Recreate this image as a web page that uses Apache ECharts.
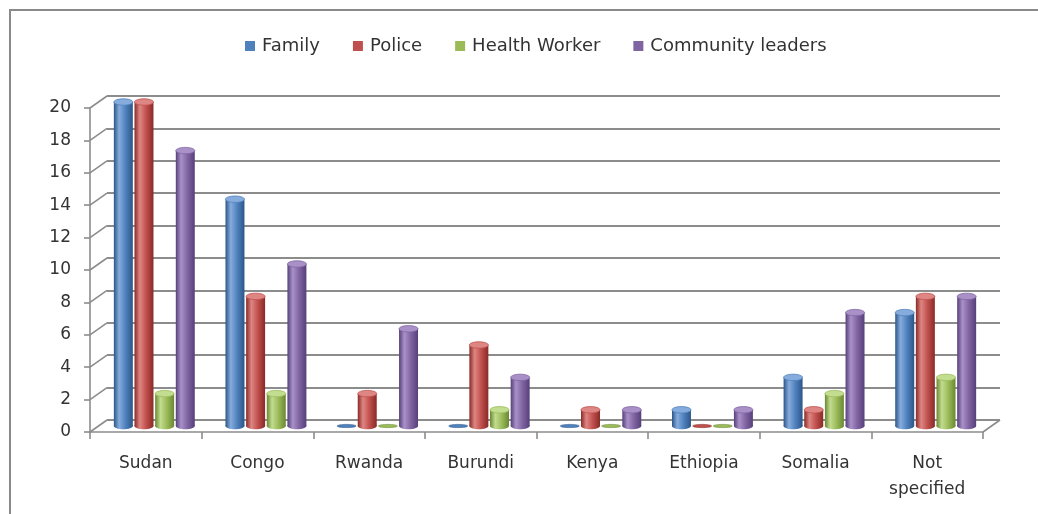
<!DOCTYPE html>
<html>
<head>
<meta charset="utf-8">
<script src="https://cdn.jsdelivr.net/npm/echarts@6/dist/echarts.min.js"></script>
<style>
  html, body { margin: 0; padding: 0; background: #fff; }
  #chart { width: 1038px; height: 514px; }
</style>
</head>
<body>
<div id="chart"></div>
<script>
// Reporting channels by country of origin
const categories = ['Sudan', 'Congo', 'Rwanda', 'Burundi', 'Kenya', 'Ethiopia', 'Somalia', 'Not\nspecified'];
const seriesNames = ['Family', 'Police', 'Health Worker', 'Community leaders'];
const family = [20, 14, 0, 0, 0, 1, 3, 7];
const police = [20, 8, 2, 5, 1, 0, 1, 8];
const healthWorker = [2, 2, 0, 1, 0, 0, 2, 3];
const communityLeaders = [17, 10, 6, 3, 1, 1, 7, 8];
const yTicks = [0, 2, 4, 6, 8, 10, 12, 14, 16, 18, 20];

// Shading for the cylinder columns: [base, highlight, shadow]
const palette = [
  ['#4F81BD', '#86ACDD', '#2C5588'],
  ['#C0504D', '#DE8683', '#892A27'],
  ['#9BBB59', '#C2DC90', '#6A8832'],
  ['#8064A2', '#A991C8', '#56407A']
];
const values = [family, police, healthWorker, communityLeaders];

// Depth of the pseudo-3D box (back wall offset from the front plane)
const DEPTH_X = 17, DEPTH_Y = -12;
const GRID_COLOR = '#8c8c8c';
const FONT = 'DejaVu Sans';
const TEXT_COLOR = '#333';

function bodyGradient(c) {
  return new echarts.graphic.LinearGradient(0, 0, 1, 0, [
    { offset: 0, color: c[2] },
    { offset: 0.28, color: c[1] },
    { offset: 0.62, color: c[0] },
    { offset: 1, color: c[2] }
  ]);
}

function makeCylinder(sIdx) {
  const c = palette[sIdx];
  return function (params, api) {
    const cat = api.value(0);
    const val = api.value(1);
    const base = api.coord([cat, 0]);
    const top = api.coord([cat, val]);
    const band = api.size([1, 0])[0];
    const step = band * 0.185;
    const w = band * 0.17;
    const cx = base[0] + (sIdx - 1.5) * step + DEPTH_X / 2;
    const yb = base[1] + DEPTH_Y / 2;
    const yt = top[1] + DEPTH_Y / 2;
    const ry = 3.2;
    const children = [];
    if (yb - yt > 0.5) {
      children.push({
        type: 'ellipse',
        shape: { cx: cx, cy: yb, rx: w / 2, ry: ry },
        style: { fill: bodyGradient(c) }
      });
      children.push({
        type: 'rect',
        shape: { x: cx - w / 2, y: yt, width: w, height: yb - yt },
        style: { fill: bodyGradient(c) }
      });
      children.push({
        type: 'ellipse',
        shape: { cx: cx, cy: yt, rx: w / 2, ry: ry },
        style: { fill: c[1], stroke: c[0], lineWidth: 0.8 }
      });
    } else {
      children.push({
        type: 'ellipse',
        shape: { cx: cx, cy: yb, rx: w / 2, ry: 1.6 },
        style: { fill: c[0], stroke: c[2], lineWidth: 0.6 }
      });
    }
    return { type: 'group', children: children };
  };
}

// Diagonal edges joining the front axis to the back wall, plus the right floor edge
function renderDepthEdges(params, api) {
  const cs = params.coordSys;
  const p = api.coord([0, api.value(1)]);
  const lineStyle = { stroke: GRID_COLOR, lineWidth: 1.6 };
  const children = [{
    type: 'line',
    shape: { x1: cs.x, y1: p[1], x2: cs.x + DEPTH_X, y2: p[1] + DEPTH_Y },
    style: lineStyle
  }];
  if (api.value(1) === 0) {
    children.push({
      type: 'line',
      shape: { x1: cs.x + cs.width, y1: p[1], x2: cs.x + cs.width + DEPTH_X, y2: p[1] + DEPTH_Y },
      style: lineStyle
    });
  }
  return { type: 'group', children: children };
}

const chart = echarts.init(document.getElementById('chart'), null, { renderer: 'canvas' });

const barSeries = seriesNames.map(function (name, i) {
  return {
    name: name,
    type: 'custom',
    xAxisIndex: 0,
    yAxisIndex: 0,
    itemStyle: { color: palette[i][0] },
    renderItem: makeCylinder(i),
    data: values[i].map(function (v, k) { return [k, v]; }),
    z: 5
  };
});

chart.setOption({
  animation: false,
  backgroundColor: '#fff',
  graphic: [{
    type: 'rect',
    shape: { x: 10, y: 10, width: 1200, height: 700 },
    style: { fill: 'none', stroke: '#8a8a8a', lineWidth: 2 },
    z: 0
  }],
  legend: {
    data: seriesNames,
    top: 37,
    left: 245,
    padding: 0,
    icon: 'rect',
    itemWidth: 10,
    itemHeight: 10,
    itemGap: 33,
    textStyle: { fontFamily: FONT, fontSize: 18, color: TEXT_COLOR, padding: [0, 0, 0, 2] }
  },
  grid: [
    { left: 90, right: 55, top: 108, bottom: 82 },
    { left: 90 + DEPTH_X, right: 55 - DEPTH_X, top: 108 + DEPTH_Y, bottom: 82 - DEPTH_Y }
  ],
  xAxis: [{
    type: 'category',
    gridIndex: 0,
    data: categories,
    boundaryGap: true,
    axisLine: { show: true, lineStyle: { color: GRID_COLOR, width: 1.6 } },
    axisTick: { show: true, length: 7, lineStyle: { color: GRID_COLOR, width: 1.6 } },
    axisLabel: {
      margin: 19,
      fontFamily: FONT, fontSize: 17, color: TEXT_COLOR, lineHeight: 26
    },
    splitLine: { show: false }
  }, {
    type: 'category',
    gridIndex: 1,
    data: categories,
    show: false
  }],
  yAxis: [{
    type: 'value',
    gridIndex: 0,
    min: 0, max: 20, interval: 2,
    axisLine: { show: true, lineStyle: { color: GRID_COLOR, width: 1.6 } },
    axisTick: { show: true, length: 6, lineStyle: { color: GRID_COLOR, width: 1.6 } },
    axisLabel: { margin: 19, fontFamily: FONT, fontSize: 17, color: TEXT_COLOR },
    splitLine: { show: false }
  }, {
    type: 'value',
    gridIndex: 1,
    min: 0, max: 20, interval: 2,
    axisLine: { show: false },
    axisTick: { show: false },
    axisLabel: { show: false },
    splitLine: { show: true, lineStyle: { color: GRID_COLOR, width: 2 } }
  }],
  series: [{
    type: 'custom',
    name: 'edges',
    xAxisIndex: 0,
    yAxisIndex: 0,
    renderItem: renderDepthEdges,
    data: yTicks.map(function (v) { return [0, v]; }),
    silent: true,
    z: 1
  }].concat(barSeries)
});
</script>
</body>
</html>
